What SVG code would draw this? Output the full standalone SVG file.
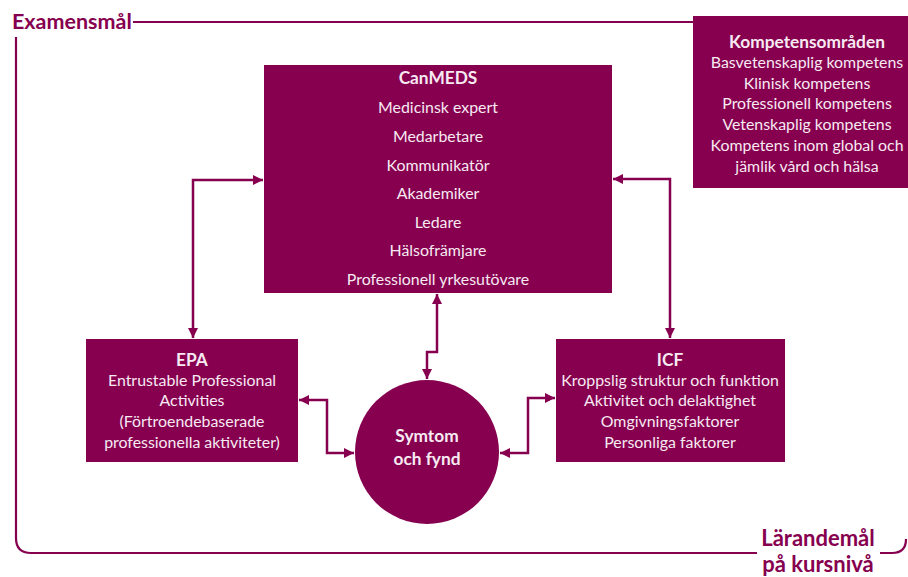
<svg xmlns="http://www.w3.org/2000/svg" width="908" height="577" viewBox="0 0 908 577">
<defs>
<style>
.box{fill:#86004F}
.frame{fill:none;stroke:#86004F;stroke-width:2.2}
.con{fill:none;stroke:#86004F;stroke-width:2.5}
.t{font-family:Lato,"Open Sans",sans-serif;font-size:15.9px;fill:#F7EAF2;text-anchor:middle}
.b{font-weight:bold;font-size:17.3px}
.lbl{font-family:Lato,"Open Sans",sans-serif;font-weight:bold;fill:#86004F}
</style>
<marker id="ah" viewBox="0 0 10 10" refX="10" refY="5" markerWidth="10" markerHeight="10" markerUnits="userSpaceOnUse" orient="auto-start-reverse">
<path d="M0,0 L10,5 L0,10 Z" fill="#86004F"/>
</marker>
</defs>
<rect width="908" height="577" fill="#fff"/>
<g id="frame">
<text class="lbl" x="12" y="29" font-size="21.5">Examensmål</text>
<path class="frame" d="M133 22 H693"/>
<path class="frame" d="M16 37 V538 Q16 553 31 553 H757"/>
<path class="frame" d="M880 553 H892 Q906 553 906 539"/>
<text class="lbl" x="818" y="546" font-size="22" text-anchor="middle">Lärandemål</text>
<text class="lbl" x="818" y="572" font-size="22" text-anchor="middle">på kursnivå</text>
</g>
<g id="kompetens">
<rect class="box" x="693" y="16" width="215" height="172"/>
<text class="t b" x="807" y="48">Kompetensområden</text>
<text class="t" x="807" y="68">Basvetenskaplig kompetens</text>
<text class="t" x="807" y="89">Klinisk kompetens</text>
<text class="t" x="807" y="109">Professionell kompetens</text>
<text class="t" x="807" y="130">Vetenskaplig kompetens</text>
<text class="t" x="807" y="151">Kompetens inom global och</text>
<text class="t" x="807" y="172">jämlik vård och hälsa</text>
</g>
<g id="canmeds">
<rect class="box" x="264" y="65" width="348" height="228"/>
<text class="t b" x="438" y="84">CanMEDS</text>
<text class="t" x="438" y="113">Medicinsk expert</text>
<text class="t" x="438" y="142">Medarbetare</text>
<text class="t" x="438" y="171">Kommunikatör</text>
<text class="t" x="438" y="199">Akademiker</text>
<text class="t" x="438" y="228">Ledare</text>
<text class="t" x="438" y="256">Hälsofrämjare</text>
<text class="t" x="438" y="285">Professionell yrkesutövare</text>
</g>
<g id="epa">
<rect class="box" x="86" y="339" width="212" height="123"/>
<text class="t b" x="192" y="366">EPA</text>
<text class="t" x="192" y="386">Entrustable Professional</text>
<text class="t" x="192" y="406">Activities</text>
<text class="t" x="192" y="427">(Förtroendebaserade</text>
<text class="t" x="192" y="448">professionella aktiviteter)</text>
</g>
<g id="icf">
<rect class="box" x="556" y="339" width="229" height="123"/>
<text class="t b" x="670" y="366">ICF</text>
<text class="t" x="670" y="386">Kroppslig struktur och funktion</text>
<text class="t" x="670" y="406">Aktivitet och delaktighet</text>
<text class="t" x="670" y="427">Omgivningsfaktorer</text>
<text class="t" x="670" y="448">Personliga faktorer</text>
</g>
<g id="symtom">
<circle class="box" cx="427" cy="452" r="72"/>
<text class="t b" x="427" y="442" font-size="19">Symtom</text>
<text class="t b" x="427" y="465" font-size="19">och fynd</text>
</g>
<g id="connectors">
<path class="con" d="M263 180 H193 V338" marker-start="url(#ah)" marker-end="url(#ah)"/>
<path class="con" d="M613 179 H670 V338" marker-start="url(#ah)" marker-end="url(#ah)"/>
<path class="con" d="M437 294 V352 H427 V379" marker-start="url(#ah)" marker-end="url(#ah)"/>
<path class="con" d="M299 400 H327 V453 H354" marker-start="url(#ah)" marker-end="url(#ah)"/>
<path class="con" d="M555 398 H528 V453 H500" marker-start="url(#ah)" marker-end="url(#ah)"/>
</g>
</svg>
